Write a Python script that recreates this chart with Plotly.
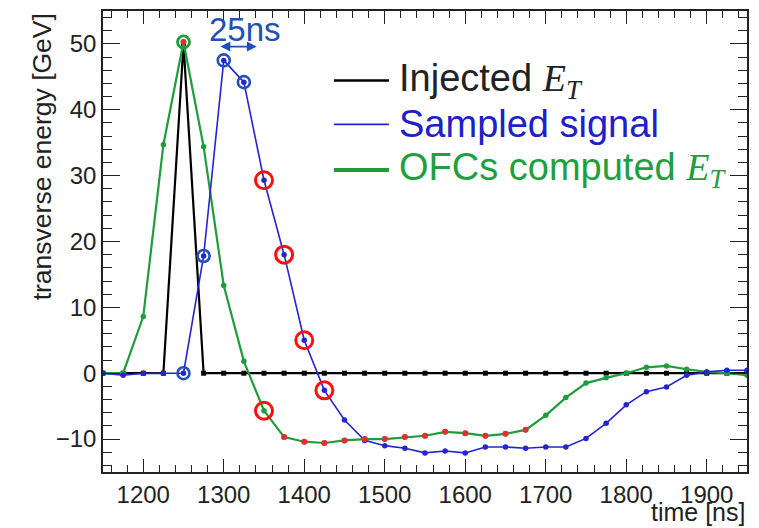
import plotly.graph_objects as go

# ---- data -----------------------------------------------------------------
time_ns = [1150, 1175, 1200, 1225, 1250, 1275, 1300, 1325, 1350, 1375, 1400,
           1425, 1450, 1475, 1500, 1525, 1550, 1575, 1600, 1625, 1650, 1675,
           1700, 1725, 1750, 1775, 1800, 1825, 1850, 1875, 1900, 1925, 1950]

injected_et = [0, 0, 0, 0, 50, 0, 0, 0, 0, 0, 0,
               0, 0, 0, 0, 0, 0, 0, 0, 0, 0, 0,
               0, 0, 0, 0, 0, 0, 0, 0, 0, 0, 0]

sampled_signal = [0, -0.3, 0, 0, 0, 17.8, 47.5, 44.2, 29.3, 18.0, 5.0,
                  -2.6, -7.1, -10.2, -11.0, -11.4, -12.1, -11.8, -12.1, -11.2, -11.2, -11.4,
                  -11.2, -11.2, -9.9, -7.6, -4.8, -2.8, -2.1, -0.3, 0.2, 0.45, 0.45]

ofc_et = [0, 0, 8.6, 34.7, 50.3, 34.4, 13.3, 1.8, -5.7, -9.7, -10.4,
          -10.6, -10.2, -10.0, -10.0, -9.7, -9.5, -8.9, -9.1, -9.5, -9.2, -8.6,
          -6.4, -3.7, -1.5, -0.7, 0, 0.9, 1.1, 0.6, 0.2, 0, -0.3]

blue_circled_times = [1250, 1275, 1300, 1325]
red_circled_sampled_times = [1350, 1375, 1400, 1425]
red_circled_ofc_times = [1350]
green_circled_times = [1250]
red_ofc_dot_times = [1250, 1375, 1400, 1425, 1450, 1475, 1500, 1525, 1550,
                     1575, 1600, 1625, 1650, 1675]

x_ticks = [1200, 1300, 1400, 1500, 1600, 1700, 1800, 1900]
y_ticks = [-10, 0, 10, 20, 30, 40, 50]

legend_labels = ["Injected", "Sampled signal", "OFCs computed"]

# ---- helpers --------------------------------------------------------------
def pick(times, series):
    lut = dict(zip(time_ns, series))
    return [lut[t] for t in times]

BLACK = "#000000"
BLUE = "#2424d0"
GREEN = "#1f9c3c"
RED = "#ff1010"
CBLUE = "#2050b8"
FONT = "Liberation Sans, Arial, sans-serif"

fig = go.Figure()

fig.add_trace(go.Scatter(x=time_ns, y=injected_et, mode="lines+markers",
                         line=dict(color=BLACK, width=2.2),
                         marker=dict(symbol="square", size=5, color=BLACK),
                         name="Injected E_T", showlegend=False))
fig.add_trace(go.Scatter(x=time_ns, y=ofc_et, mode="lines+markers",
                         line=dict(color=GREEN, width=2.2),
                         marker=dict(size=5.5, color=GREEN),
                         name="OFCs computed E_T", showlegend=False))
fig.add_trace(go.Scatter(x=time_ns, y=sampled_signal, mode="lines+markers",
                         line=dict(color=BLUE, width=1.6),
                         marker=dict(size=5.5, color=BLUE),
                         name="Sampled signal", showlegend=False))
# red dots on OFC output
fig.add_trace(go.Scatter(x=red_ofc_dot_times, y=pick(red_ofc_dot_times, ofc_et),
                         mode="markers", marker=dict(size=6, color="#e03030"),
                         showlegend=False, hoverinfo="skip"))
# open circles
fig.add_trace(go.Scatter(x=green_circled_times, y=pick(green_circled_times, ofc_et),
                         mode="markers",
                         marker=dict(symbol="circle-open", size=12, color=GREEN,
                                     line=dict(width=2.8)),
                         showlegend=False, hoverinfo="skip"))
fig.add_trace(go.Scatter(x=blue_circled_times, y=pick(blue_circled_times, sampled_signal),
                         mode="markers",
                         marker=dict(symbol="circle-open", size=12, color=CBLUE,
                                     line=dict(width=2.6)),
                         showlegend=False, hoverinfo="skip"))
fig.add_trace(go.Scatter(x=red_circled_sampled_times + red_circled_ofc_times,
                         y=pick(red_circled_sampled_times, sampled_signal)
                         + pick(red_circled_ofc_times, ofc_et),
                         mode="markers",
                         marker=dict(symbol="circle-open", size=17, color=RED,
                                     line=dict(width=3)),
                         showlegend=False, hoverinfo="skip"))

axis_common = dict(showline=True, linecolor="#222", linewidth=1.5, mirror="ticks",
                   ticks="inside", tickcolor="#222", showgrid=False, zeroline=False,
                   tickfont=dict(family=FONT, size=24, color="#222"))

fig.update_xaxes(range=[1150, 1950], tickvals=x_ticks, ticklen=13, tickwidth=1.3,
                 minor=dict(dtick=20, tick0=1200, ticks="inside", ticklen=7,
                            tickcolor="#222", tickwidth=1.2),
                 **axis_common)
fig.update_yaxes(range=[-15, 55], tickvals=y_ticks, ticklen=17, tickwidth=1.3,
                 minor=dict(dtick=2, tick0=0, ticks="inside", ticklen=9,
                            tickcolor="#222", tickwidth=1.2),
                 **axis_common)

annotations = []
# axis titles (ROOT style, aligned to the end of the axis)
annotations.append(dict(xref="paper", yref="paper", x=-0.095, y=1.0,
                        xanchor="center", yanchor="top", textangle=-90,
                        text="transverse energy [GeV]", showarrow=False,
                        font=dict(family=FONT, size=26.5, color="#222")))
annotations.append(dict(xref="paper", yref="paper", x=1.0, y=-0.086,
                        xanchor="right", yanchor="middle",
                        text="time [ns]", showarrow=False,
                        font=dict(family=FONT, size=25, color="#222")))
# 25ns spacing marker
annotations.append(dict(xref="x", yref="y", x=1341, y=49.6, ax=1294, ay=49.6,
                        axref="x", ayref="y", text="", showarrow=True,
                        arrowhead=2, startarrowhead=2, arrowside="end+start",
                        arrowsize=1.1, arrowwidth=1.8, arrowcolor=CBLUE))
annotations.append(dict(xref="x", yref="y", x=1327, y=52.2, text="25ns",
                        showarrow=False, xanchor="center", yanchor="middle",
                        font=dict(family=FONT, size=33, color=CBLUE)))

# legend drawn inside the frame
et = ("<span style=\"font-family:'Liberation Serif'\"><i>E</i>"
      "<sub><i>T</i></sub></span>")
leg_rows = [(legend_labels[0] + " " + et, BLACK, 2.5, "#222"),
            (legend_labels[1], BLUE, 1.6, "#2020c8"),
            (legend_labels[2] + " " + et, GREEN, 4.0, "#1fa040")]
leg_y = [0.849, 0.754, 0.655]
shapes = []
for (txt, lc, lw, tc), yy in zip(leg_rows, leg_y):
    shapes.append(dict(type="line", xref="paper", yref="paper",
                       x0=0.3585, x1=0.4440, y0=yy, y1=yy,
                       line=dict(color=lc, width=lw)))
    annotations.append(dict(xref="paper", yref="paper", x=0.457, y=yy,
                            xanchor="left", yanchor="middle", text=txt,
                            showarrow=False,
                            font=dict(family=FONT, size=38, color=tc)))

# the page body adds an 8px offset, so the figure is 8px smaller on each axis
fig.update_layout(width=751, height=520,
                  margin=dict(l=95, r=12, t=1, b=56),
                  paper_bgcolor="white", plot_bgcolor="white",
                  annotations=annotations, shapes=shapes,
                  showlegend=False)

fig.write_html("out.html")
